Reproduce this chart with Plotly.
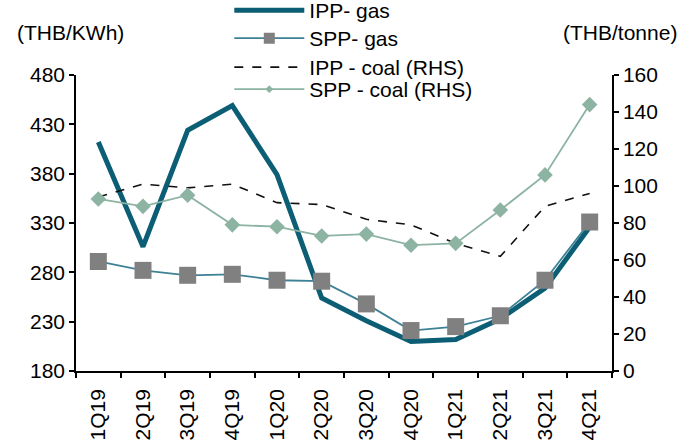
import plotly.graph_objects as go

quarters = ["1Q19", "2Q19", "3Q19", "4Q19", "1Q20", "2Q20",
            "3Q20", "4Q20", "1Q21", "2Q21", "3Q21", "4Q21"]

# THB/KWh (left axis)
ipp_gas = [412, 306, 424, 449, 379, 254, 231, 210, 212, 233, 264, 326]
spp_gas = [291, 282, 277, 278, 272, 271, 248, 221, 225, 236, 272, 331]

# THB/tonne (right axis)
ipp_coal = [94, 101, 99, 101, 91, 90, 82, 79, 69, 62, 89, 96]
spp_coal = [93, 89, 95, 79, 78, 73, 74, 68, 69, 87, 106, 144]

FONT = "Liberation Sans, Arial, sans-serif"
FS = 21

C_IPP_GAS = "#0B5E74"
C_SPP_GAS = "#3E8196"
C_MARK = "#808080"
C_IPP_COAL = "#111111"
C_SPP_COAL = "#8DB3A3"

fig = go.Figure()
fig.add_trace(go.Scatter(
    x=quarters, y=ipp_gas, name="IPP- gas", mode="lines", legend="legend",
    line=dict(color=C_IPP_GAS, width=5)))
fig.add_trace(go.Scatter(
    x=quarters, y=spp_gas, name="SPP- gas", mode="lines+markers", showlegend=False,
    line=dict(color=C_SPP_GAS, width=1.8),
    marker=dict(symbol="square", size=17, color=C_MARK)))
fig.add_trace(go.Scatter(
    x=quarters, y=ipp_coal, name="IPP - coal (RHS)", mode="lines", yaxis="y2",
    legend="legend3", line=dict(color=C_IPP_COAL, width=1.6, dash="dash")))
fig.add_trace(go.Scatter(
    x=quarters, y=spp_coal, name="SPP - coal (RHS)", mode="lines+markers", yaxis="y2",
    showlegend=False, line=dict(color=C_SPP_COAL, width=1.8),
    marker=dict(symbol="diamond", size=12, color=C_SPP_COAL)))

# legend entries with smaller marker glyphs than the plotted points
fig.add_trace(go.Scatter(
    x=[None], y=[None], name="SPP- gas", mode="lines+markers", legend="legend2",
    line=dict(color=C_SPP_GAS, width=1.8),
    marker=dict(symbol="square", size=11, color=C_MARK)))
fig.add_trace(go.Scatter(
    x=[None], y=[None], name="SPP - coal (RHS)", mode="lines+markers", yaxis="y2",
    legend="legend4", line=dict(color=C_SPP_COAL, width=1.8),
    marker=dict(symbol="diamond", size=6, color=C_SPP_COAL)))

axis_common = dict(showgrid=False, zeroline=False, showline=True,
                   linecolor="black", linewidth=1.5, ticks="outside",
                   ticklen=5, tickcolor="black", tickwidth=1.5,
                   tickfont=dict(family=FONT, size=FS, color="black"))


def legend_row(ytop):
    # one legend per series so the rows can be spaced evenly
    return dict(x=0.286, y=ytop, xanchor="left", yanchor="top",
                bgcolor="rgba(0,0,0,0)", itemwidth=70,
                font=dict(family=FONT, size=FS))


fig.update_layout(
    width=696, height=442,
    margin=dict(l=76, r=84, t=75, b=71, autoexpand=False),
    paper_bgcolor="white", plot_bgcolor="white",
    font=dict(family=FONT, size=FS, color="black"),
    xaxis=dict(**axis_common, tickangle=-90, tickson="boundaries",
               ticklabelstandoff=8, range=[-0.5, 11.5]),
    yaxis=dict(**axis_common, range=[180, 480],
               tickvals=[180, 230, 280, 330, 380, 430, 480]),
    yaxis2=dict(**axis_common, overlaying="y", side="right", range=[0, 160],
                tickvals=[0, 20, 40, 60, 80, 100, 120, 140, 160]),
    legend=legend_row(1.2872),
    legend2=legend_row(1.1926),
    legend3=legend_row(1.0946),
    legend4=legend_row(1.0202),
    showlegend=True,
    annotations=[
        dict(text="(THB/KWh)", xref="paper", yref="paper", x=-0.114, y=1.142,
             xanchor="left", yanchor="middle", showarrow=False,
             font=dict(family=FONT, size=FS)),
        dict(text="(THB/tonne)", xref="paper", yref="paper", x=1.125, y=1.142,
             xanchor="right", yanchor="middle", showarrow=False,
             font=dict(family=FONT, size=FS)),
    ],
)

fig.write_html("out.html")
